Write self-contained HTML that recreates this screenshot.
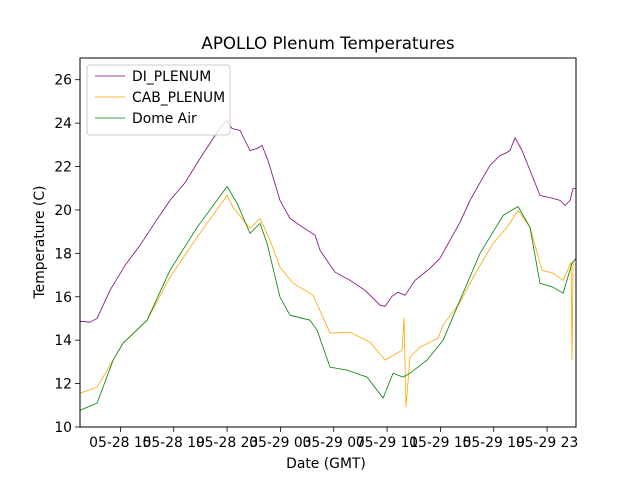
<!DOCTYPE html>
<html><head><meta charset="utf-8"><style>
body{margin:0;background:#fff}
svg{display:block;font-family:"DejaVu Sans","Liberation Sans",sans-serif}
</style></head><body>
<svg id="chart" width="640" height="480" viewBox="0 0 640 480">
<rect x="0" y="0" width="640" height="480" fill="#fff"/>
<text x="328" y="49" font-size="16.7" text-anchor="middle" fill="#000">APOLLO Plenum Temperatures</text>
<text x="326" y="468" font-size="13.9" text-anchor="middle" fill="#000">Date (GMT)</text>
<text transform="translate(44,242) rotate(-90)" font-size="13.9" text-anchor="middle" fill="#000">Temperature (C)</text>
<g id="plot"></g>
<g id="axes"></g>
<g id="legend">
<rect x="87" y="65" width="143" height="70" rx="3" fill="#fff" fill-opacity="0.8" stroke="#ccc" stroke-width="1"/>
<line x1="95" y1="76" x2="125" y2="76" stroke="purple" stroke-width="0.8"/>
<text x="132" y="81" font-size="13.9">DI_PLENUM</text>
<line x1="95" y1="97" x2="125" y2="97" stroke="orange" stroke-width="0.8"/>
<text x="132" y="102" font-size="13.9">CAB_PLENUM</text>
<line x1="95" y1="118" x2="125" y2="118" stroke="green" stroke-width="0.8"/>
<text x="132" y="123" font-size="13.9">Dome Air</text>
</g>
</svg>
<script>
// hours since 05-28 00:00 GMT
const diHours=[12.0,12.72,13.25,14.22,15.35,16.47,17.6,18.72,19.85,20.97,22.1,22.62,23.0,23.37,23.97,24.72,25.25,25.62,26.07,26.97,27.72,28.47,29.6,29.97,31.1,32.22,33.35,34.47,34.85,35.37,35.82,36.35,37.1,38.22,38.97,39.72,40.47,41.22,41.97,42.72,43.47,43.85,44.22,44.6,45.12,45.72,46.47,47.22,47.97,48.35,48.72,48.95,49.17];
const diTemps=[14.87,14.83,15.01,16.30,17.45,18.37,19.43,20.44,21.26,22.37,23.43,23.89,24.11,23.75,23.66,22.74,22.83,22.97,22.28,20.44,19.61,19.29,18.83,18.14,17.13,16.76,16.30,15.61,15.56,16.02,16.21,16.07,16.76,17.31,17.77,18.60,19.43,20.44,21.26,22.05,22.51,22.60,22.74,23.33,22.74,21.82,20.67,20.57,20.44,20.21,20.44,20.99,20.99];
const cabHours=[12.0,13.25,14.45,15.2,17.0,18.72,20.75,23.0,23.45,24.72,25.47,26.22,26.97,27.95,29.45,30.72,32.22,33.72,34.85,36.12,36.27,36.42,36.72,37.47,38.82,39.2,40.47,41.75,42.95,44.0,44.82,45.72,46.62,47.45,48.2,48.8,48.87,48.95,49.17];
const cabTemps=[11.56,11.84,13.08,13.86,14.92,16.90,18.74,20.67,20.11,19.15,19.61,18.60,17.36,16.62,16.07,14.32,14.37,13.91,13.08,13.54,15.01,10.92,13.22,13.68,14.09,14.69,15.75,17.22,18.46,19.20,19.98,19.20,17.22,17.08,16.76,17.59,13.08,17.59,17.77];
const domeHours=[12.0,13.25,14.45,15.2,17.0,18.72,20.75,23.0,23.75,24.72,25.47,26.0,26.97,27.72,29.22,29.75,30.72,32.0,33.5,34.7,35.45,36.2,36.72,38.0,39.2,40.47,41.97,43.7,44.82,45.72,46.47,47.45,48.2,48.87,49.17];
const domeTemps=[10.78,11.10,13.08,13.86,14.92,17.22,19.20,21.08,20.30,18.92,19.38,18.46,15.98,15.15,14.92,14.46,12.76,12.62,12.30,11.33,12.48,12.30,12.48,13.08,14.0,15.84,18.0,19.75,20.16,19.20,16.62,16.44,16.16,17.54,17.77];
const xTickHours=[15,19,23,27,31,35,39,43,47];
const xTickLabels=["05-28 15","05-28 19","05-28 23","05-29 03","05-29 07","05-29 11","05-29 15","05-29 19","05-29 23"];
const yTicks=[10,12,14,16,18,20,22,24,26];

const L=80,R=576,T=58,B=427,X0=11.97,X1=49.17,Y0=10,Y1=27;
const xs=h=>L+(h-X0)/(X1-X0)*(R-L);
const ys=v=>B-(v-Y0)/(Y1-Y0)*(B-T);
const NS="http://www.w3.org/2000/svg";
const plot=document.getElementById('plot'),axes=document.getElementById('axes');
function mk(tag,attrs,parent){const e=document.createElementNS(NS,tag);for(const k in attrs)e.setAttribute(k,attrs[k]);parent.appendChild(e);return e;}
function series(hs,vs,color,name){
  const d=hs.map((h,i)=>(i?'L':'M')+xs(h).toFixed(1)+','+ys(vs[i]).toFixed(1)).join('');
  const p=mk('path',{d:d,fill:'none',stroke:color,'stroke-width':0.8,'stroke-linejoin':'round'},plot);
  
  
}
series(diHours,diTemps,'purple','di-plenum-line');
series(cabHours,cabTemps,'orange','cab-plenum-line');
series(domeHours,domeTemps,'green','dome-air-line');

const frame=mk('rect',{x:L,y:T,width:R-L,height:B-T,fill:'none',stroke:'#000','stroke-width':1},axes);


xTickHours.forEach((h,i)=>{
  const x=xs(h);
  const t=mk('line',{x1:x,y1:B,x2:x,y2:B+5,stroke:'#000','stroke-width':0.8},axes);
  
  
  const tx=mk('text',{x:x,y:B+20,'font-size':13.9,'text-anchor':'middle'},axes);
  tx.textContent=xTickLabels[i];
  
  
});
yTicks.forEach(v=>{
  const y=ys(v);
  const t=mk('line',{x1:L-5,y1:y,x2:L,y2:y,stroke:'#000','stroke-width':0.8},axes);
  
  
  const tx=mk('text',{x:L-8,y:y+5,'font-size':13.9,'text-anchor':'end'},axes);
  tx.textContent=v;
  
  
});
</script>
</body></html>
